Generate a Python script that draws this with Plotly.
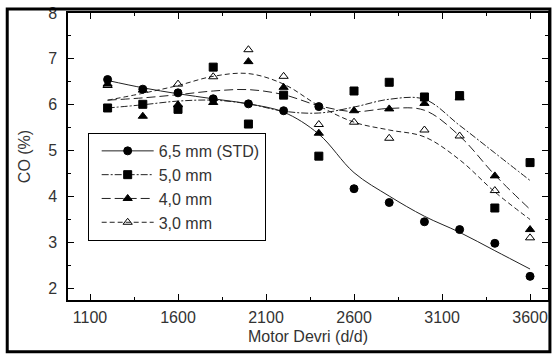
import plotly.graph_objects as go

# Measured points
rpm = [1200, 1400, 1600, 1800, 2000, 2200, 2400, 2600, 2800, 3000, 3200, 3400, 3600]
co_65 = [6.55, 6.34, 6.26, 6.13, 6.02, 5.87, 5.96, 4.17, 3.87, 3.45, 3.28, 2.98, 2.26]
co_50 = [5.93, 6.01, 5.90, 6.82, 5.58, 6.21, 4.88, 6.30, 6.49, 6.17, 6.20, 3.75, 4.74]
co_40 = [6.45, 5.75, 6.00, 6.05, 6.94, 6.38, 5.38, 5.87, 5.91, 6.03, 6.15, 4.45, 3.28]
co_30 = [6.42, 6.32, 6.45, 6.61, 7.20, 6.62, 5.57, 5.62, 5.27, 5.45, 5.32, 4.13, 3.10]

# Fitted curves
fit_65 = [6.53, 6.37, 6.24, 6.13, 6.02, 5.84, 5.36, 4.52, 4.01, 3.57, 3.22, 2.82, 2.42]
fit_50 = [5.93, 6.00, 6.08, 6.10, 6.02, 5.86, 5.82, 5.95, 6.12, 6.12, 5.55, 4.95, 4.35]
fit_40 = [6.10, 6.15, 6.22, 6.30, 6.33, 6.22, 5.98, 5.85, 5.92, 5.88, 5.32, 4.47, 3.72]
fit_30 = [6.10, 6.25, 6.42, 6.62, 6.68, 6.45, 5.98, 5.62, 5.45, 5.30, 4.80, 4.10, 3.50]

names = ["6,5 mm (STD)", "5,0 mm", "4,0 mm", "3,0 mm"]
x_ticks = [1100, 1600, 2100, 2600, 3100, 3600]
y_ticks = [2, 3, 4, 5, 6, 7, 8]

FONT = "Liberation Sans, Arial, sans-serif"
LINE_COL = "#222222"
TXT = "#333333"

series = [
    (co_65, fit_65, "circle", "solid", names[0]),
    (co_50, fit_50, "square", "7px,2px,2px,2px", names[1]),
    (co_40, fit_40, "triangle-up", "9px,4px", names[2]),
    (co_30, fit_30, "triangle-up-open", "5px,3px", names[3]),
]

fig = go.Figure()
for pts, fit, sym, dash, nm in series:
    fig.add_trace(go.Scatter(x=rpm, y=fit, mode="lines", showlegend=False,
                             line=dict(color=LINE_COL, width=1, dash=dash, shape="spline", smoothing=1.0),
                             hoverinfo="skip"))
for pts, fit, sym, dash, nm in series:
    fig.add_trace(go.Scatter(x=rpm, y=pts, mode="markers", showlegend=False,
                             marker=dict(symbol=sym, size=8, color="black",
                                         line=dict(color="black", width=1))))
for pts, fit, sym, dash, nm in series:
    fig.add_trace(go.Scatter(x=[None], y=[None], mode="lines+markers", name=nm,
                             line=dict(color=LINE_COL, width=1, dash=dash),
                             marker=dict(symbol=sym, size=8, color="black",
                                         line=dict(color="black", width=1))))

axis_common = dict(
    showline=True, linecolor="black", linewidth=1.5, mirror="allticks",
    ticks="inside", ticklen=6, tickwidth=1, tickcolor="black",
    showgrid=False, zeroline=False, ticklabeloverflow="allow",
    tickfont=dict(family=FONT, size=16, color=TXT),
)

fig.update_layout(
    width=555, height=358,
    margin=dict(l=68, r=5, t=6, b=58),
    paper_bgcolor="white", plot_bgcolor="white",
    font=dict(family=FONT, size=16, color=TXT),
    xaxis=dict(range=[975, 3702], tickvals=x_ticks, ticklabelstandoff=2,
               minor=dict(dtick=250, tick0=1100, ticks="inside", ticklen=3, tickcolor="black"),
               title=dict(text="Motor Devri (d/d)", standoff=6,
                          font=dict(family=FONT, size=16, color=TXT)),
               **axis_common),
    yaxis=dict(range=[1.745, 8.0], tickvals=y_ticks, ticklabelstandoff=6,
               minor=dict(dtick=0.5, tick0=2, ticks="inside", ticklen=3, tickcolor="black"),
               title=dict(text="CO (%)", standoff=14,
                          font=dict(family=FONT, size=16, color=TXT)),
               **axis_common),
    legend=dict(x=0.041, y=0.582, xanchor="left", yanchor="top",
                bgcolor="white", bordercolor="black", borderwidth=1,
                font=dict(family=FONT, size=16, color=TXT),
                itemwidth=52, indentation=8, tracegroupgap=0),
    shapes=[dict(type="rect", xref="paper", yref="paper",
                 x0=-0.1266, x1=1.004, y0=-0.180, y1=1.0136,
                 line=dict(color="black", width=3), fillcolor="rgba(0,0,0,0)",
                 layer="above")],
)

fig.write_html("out.html", config={"displayModeBar": False})

# remove default page margins so the figure sits at the window origin
with open("out.html", "r", encoding="utf-8") as f:
    html = f.read()
html = html.replace("<head>", "<head><style>html,body{margin:0;padding:0;overflow:hidden;}</style>", 1)
with open("out.html", "w", encoding="utf-8") as f:
    f.write(html)
